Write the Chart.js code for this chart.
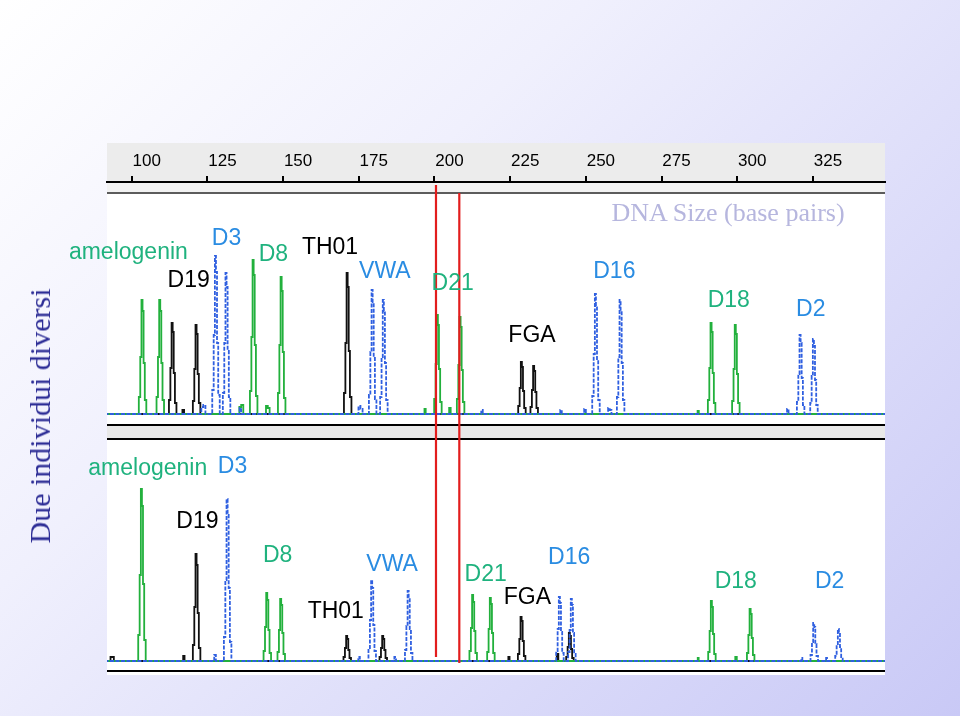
<!DOCTYPE html>
<html>
<head>
<meta charset="utf-8">
<script src="https://cdn.jsdelivr.net/npm/chart.js@4.4.0/dist/chart.umd.min.js"></script>
<style>
  html, body { margin: 0; padding: 0; }
  body {
    width: 960px; height: 716px; overflow: hidden; position: relative;
    background: linear-gradient(135deg, #ffffff 0%, #f0f0fd 35%, #c9c9f6 100%);
  }
  #chart { position: absolute; left: 0; top: 0; }
  .title {
    position: absolute; left: 40px; top: 416px;
    transform: translate(-50%, -50%) rotate(-90deg);
    font-family: "Liberation Serif", "DejaVu Serif", serif; font-size: 30px;
    color: #2d2d96; white-space: nowrap;
  }
  .sizeLabel {
    position: absolute; left: 728px; top: 213px;
    transform: translate(-50%, -50%);
    font-family: "Liberation Serif", "DejaVu Serif", serif; font-size: 26px;
    color: #b6b6de; white-space: nowrap;
  }
</style>
</head>
<body>
<canvas id="chart" width="960" height="716"></canvas>
<div class="title">Due individui diversi</div>
<div class="sizeLabel">DNA Size (base pairs)</div>
<script>
// ruler ticks (base pairs)
const sizeTicks = [100, 125, 150, 175, 200, 225, 250, 275, 300, 325];

// traces: [base pairs, signal] — top individual
const topGreen = [
  [91,0],
  [102.1,0],[102.6,17],[103.05,57],[103.4,114],[103.75,103],[104.1,51],[104.55,14],[105.1,0],
  [107.95,0],[108.45,17],[108.9,57],[109.25,114],[109.6,103],[109.95,51],[110.4,14],[110.95,0],
  [135.3,0],[135.8,7],[136.5,9],[137.2,0],
  [138.8,0],[139.3,23],[139.75,77],[140.1,154],[140.45,139],[140.8,69],[141.25,18],[141.8,0],
  [144.1,0],[144.6,8],[145.3,6],[145.8,0],
  [148.05,0],[148.55,21],[149.0,69],[149.35,137],[149.7,123],[150.05,62],[150.5,16],[151.05,0],
  [196.5,0],[196.9,5],[197.3,0],
  [199.65,0],[200.15,15],[200.6,50],[200.95,99],[201.3,89],[201.65,45],[202.1,12],[202.65,0],
  [204.6,0],[205.1,6],[205.6,0],
  [207.15,0],[207.65,15],[208.1,49],[208.45,97],[208.8,87],[209.15,44],[209.6,12],[210.15,0],
  [286.7,0],[287.1,3],[287.5,0],
  [290.05,0],[290.55,14],[291.0,46],[291.35,91],[291.7,82],[292.05,41],[292.5,11],[293.05,0],
  [298.05,0],[298.55,13],[299.0,45],[299.35,89],[299.7,80],[300.05,40],[300.5,11],[301.05,0],
  [350,0]
];
const topBlack = [
  [91,0],
  [112.05,0],[112.55,14],[113.0,46],[113.35,91],[113.7,82],[114.05,41],[114.5,11],[115.05,0],
  [116.5,0],[117.0,4],[117.6,0],
  [119.95,0],[120.45,13],[120.9,45],[121.25,89],[121.6,80],[121.95,40],[122.4,11],[122.95,0],
  [169.85,0],[170.35,21],[170.8,71],[171.15,141],[171.5,127],[171.85,63],[172.3,17],[172.85,0],
  [227.4,0],[227.9,8],[228.35,26],[228.7,52],[229.05,47],[229.4,23],[229.85,6],[230.4,0],
  [231.45,0],[231.95,7],[232.4,24],[232.75,48],[233.1,43],[233.45,22],[233.9,6],[234.45,0],
  [350,0]
];
const topBlue = [
  [91,0],
  [122.7,0],[123.3,7],[124.0,9],[124.7,0],
  [126.35,0],[126.85,24],[127.3,79],[127.65,158],[128.0,142],[128.35,71],[128.8,19],[129.35,0],
  [129.85,0],[130.35,21],[130.8,71],[131.15,141],[131.5,127],[131.85,63],[132.3,17],[132.85,0],
  [135.4,0],[135.9,6],[136.4,0],
  [174.6,0],[175.2,8],[175.9,5],[176.6,0],
  [178.1,0],[178.6,19],[179.05,62],[179.4,124],[179.75,112],[180.1,56],[180.55,15],[181.1,0],
  [181.8,0],[182.3,17],[182.75,57],[183.1,114],[183.45,103],[183.8,51],[184.25,14],[184.8,0],
  [215.2,0],[215.7,4],[216.2,0],
  [241.3,0],[241.8,4],[242.3,0],
  [249.2,0],[249.7,5],[250.3,0],
  [251.85,0],[252.35,18],[252.8,60],[253.15,120],[253.5,108],[253.85,54],[254.3,14],[254.85,0],
  [257.1,0],[257.6,6],[258.2,4],[258.7,0],
  [260.0,0],[260.5,17],[260.95,57],[261.3,114],[261.65,103],[262.0,51],[262.45,14],[263.0,0],
  [316.2,0],[316.7,5],[317.2,0],
  [319.45,0],[319.95,12],[320.4,40],[320.75,79],[321.1,71],[321.45,36],[321.9,9],[322.45,0],
  [323.85,0],[324.35,11],[324.8,38],[325.15,75],[325.5,68],[325.85,34],[326.3,9],[326.85,0],
  [350,0]
];

// traces — bottom individual
const bottomGreen = [
  [91,0],
  [101.9,0],[102.4,26],[102.85,86],[103.2,172],[103.55,155],[103.9,77],[104.35,21],[104.9,0],
  [143.3,0],[143.8,10],[144.25,34],[144.6,68],[144.95,61],[145.3,31],[145.75,8],[146.3,0],
  [147.9,0],[148.4,9],[148.85,31],[149.2,62],[149.55,56],[149.9,28],[150.35,7],[150.9,0],
  [211.3,0],[211.8,10],[212.25,33],[212.6,66],[212.95,59],[213.3,30],[213.75,8],[214.3,0],
  [217.15,0],[217.65,9],[218.1,32],[218.45,63],[218.8,57],[219.15,28],[219.6,8],[220.15,0],
  [286.8,0],[287.1,3],[287.4,0],
  [290.15,0],[290.65,9],[291.1,30],[291.45,60],[291.8,54],[292.15,27],[292.6,7],[293.15,0],
  [299.1,0],[299.6,4],[300.1,0],
  [302.95,0],[303.45,8],[303.9,26],[304.25,52],[304.6,47],[304.95,23],[305.4,6],[305.95,0],
  [350,0]
];
const bottomBlack = [
  [91,0],
  [92.8,0],[93.2,4],[93.9,4],[94.3,0],
  [116.8,0],[117.2,5],[117.7,0],
  [119.95,0],[120.45,16],[120.9,54],[121.25,107],[121.6,96],[121.95,48],[122.4,13],[122.95,0],
  [169.7,0],[170.2,4],[170.65,13],[171.0,25],[171.35,22],[171.7,11],[172.15,3],[172.7,0],
  [181.6,0],[182.1,4],[182.55,13],[182.9,25],[183.25,22],[183.6,11],[184.05,3],[184.6,0],
  [224.2,0],[224.6,4],[225.0,0],
  [227.3,0],[227.8,7],[228.25,22],[228.6,44],[228.95,40],[229.3,20],[229.75,5],[230.3,0],
  [240.2,0],[240.6,7],[241.2,0],
  [243.25,0],[243.75,4],[244.2,14],[244.55,28],[244.9,25],[245.25,12],[245.7,3],[246.25,0],
  [350,0]
];
const bottomBlue = [
  [91,0],
  [127.0,0],[127.5,6],[128.1,0],
  [130.2,0],[130.7,24],[131.15,81],[131.5,162],[131.85,146],[132.2,73],[132.65,19],[133.2,0],
  [174.6,0],[175.1,4],[175.6,0],
  [177.95,0],[178.45,12],[178.9,41],[179.25,81],[179.6,73],[179.95,36],[180.4,10],[180.95,0],
  [186.5,0],[187.0,4],[187.6,0],
  [190.0,0],[190.5,11],[190.95,35],[191.3,70],[191.65,63],[192.0,32],[192.45,8],[193.0,0],
  [239.95,0],[240.45,10],[240.9,32],[241.25,64],[241.6,58],[241.95,29],[242.4,8],[242.95,0],
  [243.9,0],[244.4,9],[244.85,31],[245.2,62],[245.55,56],[245.9,28],[246.35,7],[246.9,0],
  [321.0,0],[321.3,3],[321.7,0],
  [323.95,0],[324.45,6],[324.9,19],[325.25,38],[325.6,34],[325.95,17],[326.4,5],[326.95,0],
  [329.2,0],[329.5,3],[329.8,0],
  [332.1,0],[332.6,5],[333.05,16],[333.4,32],[333.75,29],[334.1,14],[334.55,4],[335.1,0],
  [350,0]
];

// locus names (anchored at base pairs / signal level)
const lociNames = ['amelogenin', 'D3', 'D19', 'D8', 'TH01', 'VWA', 'D21', 'FGA', 'D16', 'D18', 'D2'];
const lociDye = ['green', 'blue', 'black', 'green', 'black', 'blue', 'green', 'black', 'blue', 'green', 'blue'];
const topLociBp = [98.9, 131.3, 118.8, 146.8, 165.5, 183.6, 206.0, 232.2, 259.4, 297.2, 324.3];
const topLociLevel = [161, 175, 133, 159, 166, 142, 130, 78, 142, 113, 104];
const bottomLociBp = [105.3, 133.3, 121.7, 148.2, 167.4, 186.0, 216.9, 230.7, 244.5, 299.5, 330.5];
const bottomLociLevel = [192, 194, 139, 105, 49, 96, 86, 63, 103, 79, 79];

// the two red marker lines
const markerBp = [200.5, 208.2];
const markerTopLevel = [229, 221];
const markerBottomLevel = [4, -2];

const dyeColors = { green: '#22b03c', black: '#111111', blue: '#2f5fe0' };
const labelColors = { green: '#1fb27e', black: '#000000', blue: '#2a8ce2' };

function trace(data, dye, yAxisID) {
    return {
        data: data,
        yAxisID: yAxisID,
        borderColor: dyeColors[dye],
        borderWidth: 1.8,
        borderDash: dye === 'blue' ? [4, 1.5] : [],
        stepped: 'middle',
        pointRadius: 0,
        tension: 0,
        fill: false,
        order: dye === 'blue' ? 0 : (dye === 'green' ? 1 : 2)
    };
}

const panelPlugin = {
    id: 'panel',
    beforeDraw(chart) {
        const { ctx, chartArea: a, scales } = chart;
        const x = scales.x;
        const mid = scales.yTop.bottom;
        ctx.save();
        ctx.fillStyle = '#ffffff';
        ctx.fillRect(a.left, x.top, a.width, a.bottom - x.top);
        // ruler band
        ctx.fillStyle = '#ececec';
        ctx.fillRect(a.left, x.top, a.width, x.bottom - x.top);
        // strip under the ruler
        ctx.fillStyle = '#f2f2f2';
        ctx.fillRect(a.left, a.top, a.width, 11);
        ctx.fillStyle = '#5c5c5c';
        ctx.fillRect(a.left, a.top + 10, a.width, 2);
        // separator between the two runs
        ctx.fillStyle = '#e8e8e8';
        ctx.fillRect(a.left, mid - 7, a.width, 14);
        ctx.fillStyle = '#000';
        ctx.fillRect(a.left, mid - 8, a.width, 2);
        ctx.fillRect(a.left, mid + 6, a.width, 2);
        // bottom border
        ctx.fillRect(a.left, a.bottom - 5, a.width, 2);
        ctx.restore();
    },
    afterDatasetsDraw(chart) {
        const { ctx, scales } = chart;
        ctx.save();
        ctx.strokeStyle = '#e21d1d';
        ctx.lineWidth = 2.2;
        markerBp.forEach((bp, i) => {
            const px = scales.x.getPixelForValue(bp);
            ctx.beginPath();
            ctx.moveTo(px, scales.yTop.getPixelForValue(markerTopLevel[i]));
            ctx.lineTo(px, scales.yBot.getPixelForValue(markerBottomLevel[i]));
            ctx.stroke();
        });
        ctx.restore();
    },
    afterDraw(chart) {
        const { ctx, scales } = chart;
        ctx.save();
        ctx.font = '23px "Liberation Sans", Arial, sans-serif';
        ctx.textAlign = 'center';
        ctx.textBaseline = 'middle';
        lociNames.forEach((name, i) => {
            ctx.fillStyle = labelColors[lociDye[i]];
            ctx.fillText(name, scales.x.getPixelForValue(topLociBp[i]), scales.yTop.getPixelForValue(topLociLevel[i]));
            ctx.fillText(name, scales.x.getPixelForValue(bottomLociBp[i]), scales.yBot.getPixelForValue(bottomLociLevel[i]));
        });
        ctx.restore();
    }
};

function renderChart() {
    const ctx = document.getElementById('chart').getContext('2d');
    new Chart(ctx, {
        type: 'line',
        data: {
            datasets: [
                trace(topBlue, 'blue', 'yTop'),
                trace(topGreen, 'green', 'yTop'),
                trace(topBlack, 'black', 'yTop'),
                trace(bottomBlue, 'blue', 'yBot'),
                trace(bottomGreen, 'green', 'yBot'),
                trace(bottomBlack, 'black', 'yBot')
            ]
        },
        options: {
            responsive: false,
            animation: false,
            layout: { padding: { left: 107, right: 75, top: 143, bottom: 41 } },
            plugins: { legend: { display: false }, tooltip: { enabled: false } },
            scales: {
                x: {
                    type: 'linear',
                    position: 'top',
                    min: 91.84,
                    max: 348.8,
                    afterFit: (scale) => { scale.height = 39; },
                    afterBuildTicks: (scale) => { scale.ticks = sizeTicks.map(v => ({ value: v })); },
                    grid: { drawOnChartArea: false, color: '#000', lineWidth: 2, tickLength: 6 },
                    border: { color: '#000', width: 2 },
                    ticks: {
                        autoSkip: false,
                        maxRotation: 0,
                        padding: 4,
                        labelOffset: 15,
                        color: '#000',
                        font: { family: '"Liberation Sans", Arial, sans-serif', size: 17 }
                    }
                },
                yTop: {
                    type: 'linear', display: false, position: 'left',
                    stack: 'runs', stackWeight: 250, weight: 2,
                    min: -18, max: 232
                },
                yBot: {
                    type: 'linear', display: false, position: 'left',
                    stack: 'runs', stackWeight: 243, weight: 1,
                    min: -14, max: 229
                }
            }
        },
        plugins: [panelPlugin]
    });
}

renderChart();
</script>
</body>
</html>
